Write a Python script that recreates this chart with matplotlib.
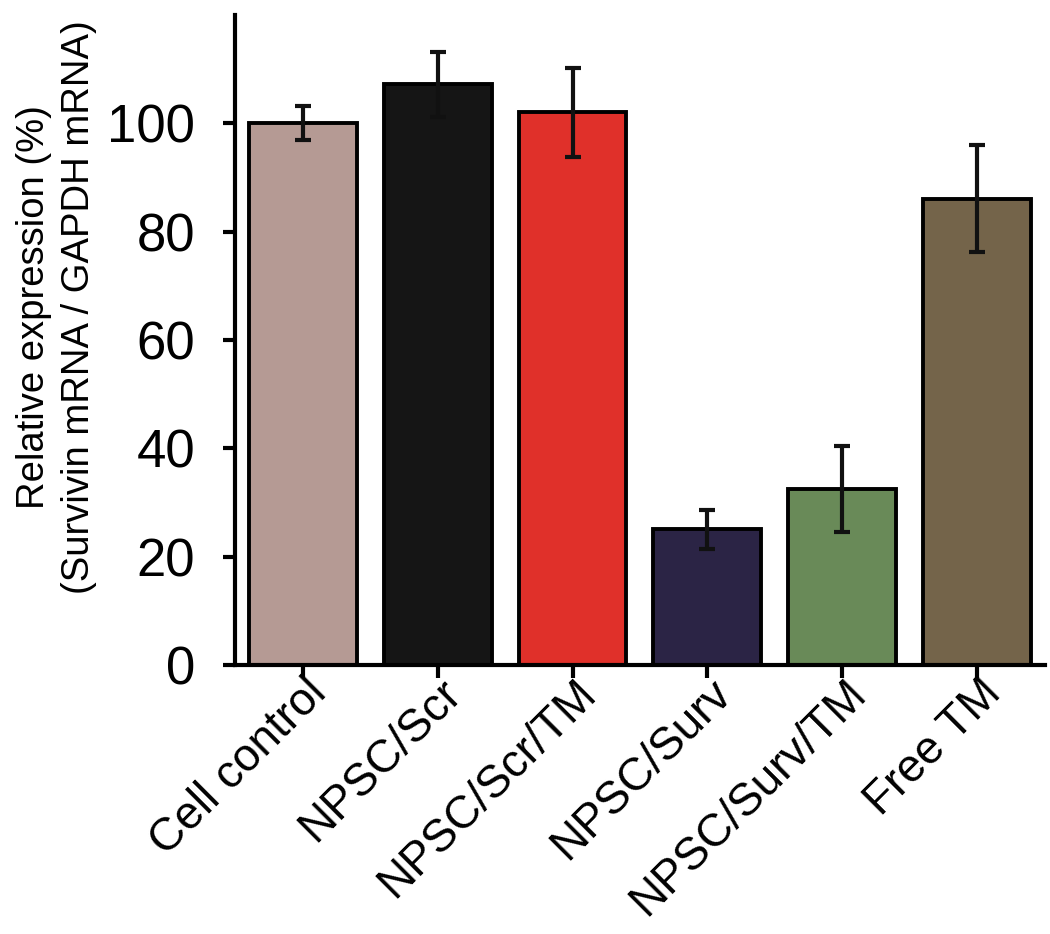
import matplotlib
matplotlib.use("Agg")
import matplotlib.pyplot as plt
import matplotlib.transforms as mtransforms

categories = ["Cell control", "NPSC/Scr", "NPSC/Scr/TM", "NPSC/Surv", "NPSC/Surv/TM", "Free TM"]
values = [100.0, 107.2, 102.0, 25.1, 32.5, 86.1]
errors = [3.1, 6.0, 8.2, 3.6, 8.0, 9.8]
colors = ["#b59a94", "#151515", "#e0302a", "#2b2445", "#698a58", "#74644a"]
yticks = [0, 20, 40, 60, 80, 100]

plt.rcParams['font.family'] = ['Liberation Sans', 'DejaVu Sans']

fig = plt.figure(figsize=(10.5, 9.34), dpi=100)
ax = fig.add_axes([0.224, 0.288, 0.771, 0.696])

x = list(range(len(categories)))
ax.bar(x, values, width=0.8, color=colors, edgecolor="black", linewidth=2.8, zorder=2)
ax.errorbar(x, values, yerr=errors, fmt="none", ecolor="#111111", elinewidth=3,
            capsize=6, capthick=3, zorder=3)

ax.set_xlim(-0.5, 5.5)
ax.set_ylim(0, 120)
ax.set_yticks(yticks)
ax.set_xticks(x)
ax.set_xticklabels(categories, rotation=45, ha="right", va="center", rotation_mode="anchor", fontsize=33)
ax.tick_params(axis="y", labelsize=38, width=3, length=9, direction="out", pad=20)
ax.tick_params(axis="x", width=3, length=9, direction="out", pad=16)

offset = mtransforms.ScaledTranslation(0.17, 0.13, fig.dpi_scale_trans)
for lab in ax.get_xticklabels():
    lab.set_transform(lab.get_transform() + offset)

for s in ["top", "right"]:
    ax.spines[s].set_visible(False)
for s in ["left", "bottom"]:
    ax.spines[s].set_linewidth(3)

fig.text(0.054, 0.671, "Relative expression (%)\n(Survivin mRNA / GAPDH mRNA)", fontsize=27.5,
         rotation=90, ha="center", va="center", linespacing=1.3, multialignment="center")

fig.savefig("out.png", dpi=100)
